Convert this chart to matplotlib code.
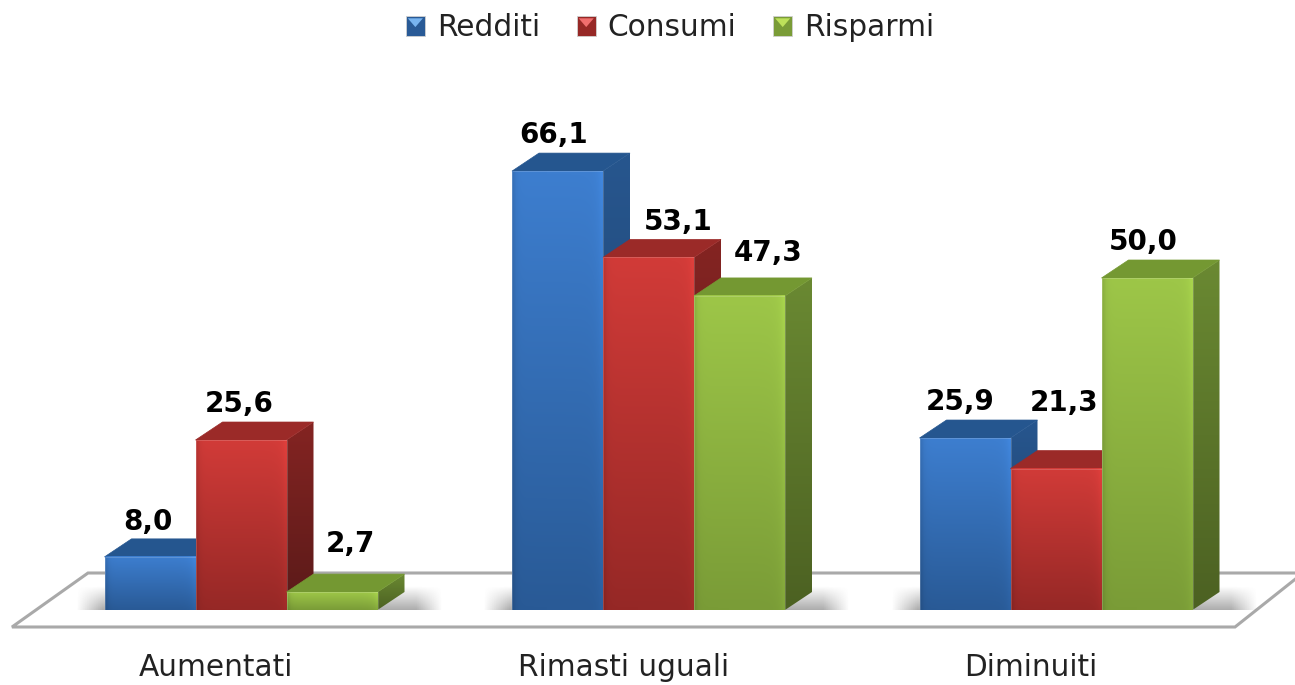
import numpy as np
import matplotlib
matplotlib.use("Agg")
import matplotlib.pyplot as plt
from matplotlib.patches import Polygon, Rectangle
from matplotlib.legend_handler import HandlerPatch

categories = ["Aumentati", "Rimasti uguali", "Diminuiti"]
series_names = ["Redditi", "Consumi", "Risparmi"]
redditi = [8.0, 66.1, 25.9]
consumi = [25.6, 53.1, 21.3]
risparmi = [2.7, 47.3, 50.0]
value_labels = [["8,0", "66,1", "25,9"], ["25,6", "53,1", "21,3"], ["2,7", "47,3", "50,0"]]

# front top, front bottom, top face, side top, side bottom
palette = [
    [(61, 126, 207), (41, 90, 150), (37, 86, 143), (39, 86, 142), (30, 64, 105)],
    [(209, 59, 56), (150, 40, 38), (155, 42, 40), (132, 36, 34), (90, 26, 25)],
    [(157, 198, 72), (122, 156, 55), (116, 152, 50), (106, 137, 50), (76, 97, 34)],
]

# px per data unit, from the picture
BAR_W = 91 / 407.5
DX = 27 / 407.5
DY = 18 / 6.64
# label nudges in px, by series then group
nudge_x = [[-2, -4, -5], [-2, 30, 8], [18, 29, -4]]
nudge_y = [[35, 36, 36], [36, 35, 66], [48, 43, 36]]

plt.rcParams["font.family"] = ["DejaVu Sans"]
fig = plt.figure(figsize=(12.95, 6.85), dpi=100)
ax = fig.add_axes([0, 0, 1, 1])
ax.set_xlim(-241 / 407.5, (1295 - 241) / 407.5)
ax.set_ylim(-75 / 6.64, 610 / 6.64)
ax.axis("off")


def rgb(c):
    return np.array(c) / 255


def gradient(x0, x1, y0, y1, top, bot, z, clip=None, edge=True):
    t = np.linspace(0, 1, 64)[:, None, None]
    img = rgb(top) * (1 - t) + rgb(bot) * t
    img = np.repeat(img, 32, axis=1)
    if edge:
        s = np.linspace(0, 1, 32)
        k = 1 - 0.10 * np.exp(-s / 0.03) + 0.07 * np.exp(-(1 - s) / 0.05)
        img = np.clip(img * k[None, :, None], 0, 1)
    im = ax.imshow(img, extent=(x0, x1, y0, y1), origin="upper", aspect="auto",
                   zorder=z, interpolation="bilinear")
    if clip is not None:
        p = Polygon(clip, closed=True, transform=ax.transData)
        im.set_clip_path(p)
    return im


def bar3d(x, h, cols, z):
    x1 = x + BAR_W
    side = [(x1, 0), (x1 + DX, DY), (x1 + DX, h + DY), (x1, h)]
    gradient(x1, x1 + DX, 0, h + DY, cols[3], cols[4], z, clip=side, edge=False)
    top = [(x, h), (x + DX, h + DY), (x1 + DX, h + DY), (x1, h)]
    ax.add_patch(Polygon(top, closed=True, fc=rgb(cols[2]), ec=rgb(cols[2]), lw=0.5, zorder=z + 0.1))
    gradient(x, x1, 0, h, cols[0], cols[1], z + 0.2)
    ax.add_patch(Rectangle((x, 0), BAR_W, h, fc="none", ec="white", lw=0.6, alpha=0.2, zorder=z + 0.3))


def shadow(x0, x1, z):
    s = np.linspace(-1, 1, 200)
    v = np.linspace(1, 0, 40)[:, None]
    a = np.clip((1 - np.abs(s)) * 7, 0, 1)[None, :] * v * 0.5
    img = np.zeros((40, 200, 4))
    img[..., :3] = 0.35
    img[..., 3] = a
    ax.imshow(img, extent=(x0, x1, 0, 3.6), origin="lower", aspect="auto", zorder=z)


# floor
floor = [(-229 / 407.5, -17 / 6.64), (994 / 407.5, -17 / 6.64), (1062 / 407.5, 37 / 6.64), (-153 / 407.5, 37 / 6.64)]
ax.add_patch(Polygon(floor, closed=True, fc="white", ec="#a9a9a9", lw=2.2, zorder=1))

all_series = [redditi, consumi, risparmi]
z = 3
for g in range(len(categories)):
    left = g - 1.5 * BAR_W
    shadow(left - 0.07, left + 3 * BAR_W + 0.16, 2)
    for s, vals in enumerate(all_series):
        bar3d(left + s * BAR_W, vals[g], palette[s], z)
        z += 1
    ax.text(g - 25 / 407.5, -58 / 6.64, categories[g], ha="center", va="center",
            fontsize=21.3, color="#222222", zorder=z)

for s, vals in enumerate(all_series):
    for g, v in enumerate(vals):
        bx = g - 1.5 * BAR_W + (s + 0.5) * BAR_W
        ax.text(bx + nudge_x[s][g] / 407.5, v + nudge_y[s][g] / 6.64, value_labels[s][g],
                ha="center", va="center", fontsize=20, fontweight="bold", color="black", zorder=100)


class SwatchHandler(HandlerPatch):
    def create_artists(self, legend, orig, xd, yd, w, h, fs, trans):
        r = Rectangle((-xd, -yd), w, h, fc=orig.get_facecolor(), ec="#d0d0d0", lw=0.6, transform=trans)
        tri = Polygon([(-xd + 0.1 * w, -yd + h * 0.9), (-xd + 0.9 * w, -yd + h * 0.9), (-xd + 0.5 * w, -yd + h * 0.45)],
                      closed=True, fc=orig.get_edgecolor(), ec="none", transform=trans)
        return [r, tri]


handles = []
light = [(120, 180, 240), (240, 110, 110), (190, 225, 90)]
for s, name in enumerate(series_names):
    handles.append(Rectangle((0, 0), 1, 1, fc=rgb(palette[s][1]), ec=rgb(light[s]), label=name))
leg = ax.legend(handles=handles, ncol=3, loc="center", bbox_to_anchor=(670 / 1295, 1 - 28 / 685),
                frameon=False, fontsize=21.3, handlelength=0.64, handleheight=0.64, handletextpad=0.4,
                columnspacing=1.25, labelcolor="#222222", borderpad=0,
                handler_map={Rectangle: SwatchHandler()})
leg.set_zorder(200)

fig.savefig("out.png", dpi=100)
